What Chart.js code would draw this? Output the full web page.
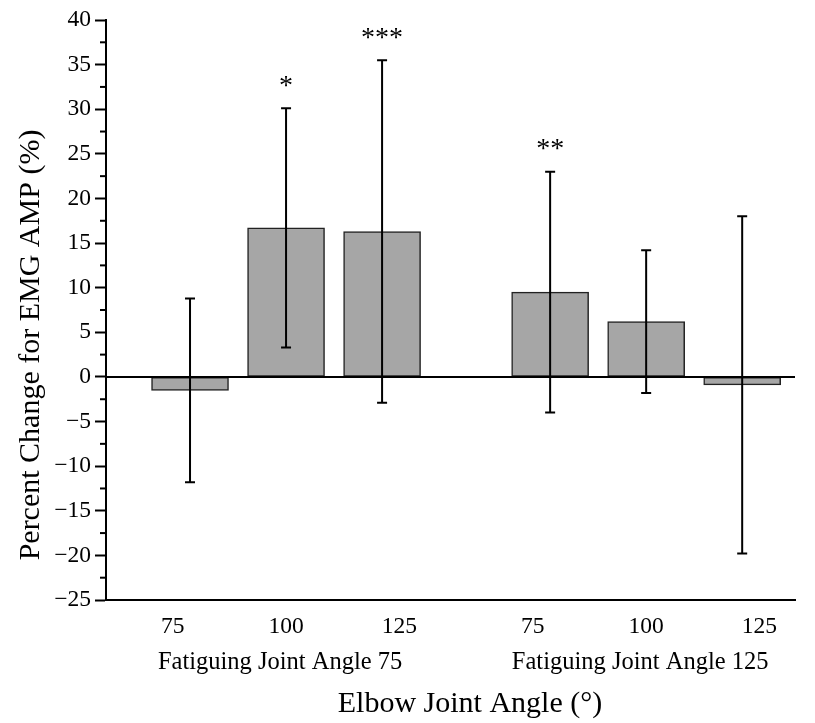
<!DOCTYPE html>
<html>
<head>
<meta charset="utf-8">
<script src="https://cdn.jsdelivr.net/npm/chart.js@4.4.1/dist/chart.umd.min.js"></script>
<style>
  html, body { margin: 0; padding: 0; background: #fff; }
  #wrap { width: 815px; height: 723px; }
</style>
</head>
<body>
<div id="wrap"><canvas id="chart"></canvas></div>
<script>
// data
const groups = ['Fatiguing Joint Angle 75', 'Fatiguing Joint Angle 125'];
const angles = ['75', '100', '125'];
const meanChange = [-1.5, 16.7, 16.3, 9.5, 6.2, -0.9];
const sdChange = [10.3, 13.4, 19.2, 13.5, 8.0, 18.9];
const significance = ['', '*', '***', '**', '', ''];

const FONT = "'Liberation Serif', 'Times New Roman', serif";
const GROUP_GAP = 3.75;     // distance between first bars of the two groups
const LABEL_SPREAD = 1.18;  // tick labels sit a bit wider apart than bars

const barX = meanChange.map((v, i) => Math.floor(i / 3) * GROUP_GAP + (i % 3));
const groupCenter = groups.map((g, k) => k * GROUP_GAP + 1);
const labelX = barX.map((x, i) => {
  const c = groupCenter[Math.floor(i / 3)];
  return c + (x - c) * LABEL_SPREAD;
});

const extras = {
  id: 'extras',
  afterDatasetsDraw(chart) {
    const ctx = chart.ctx;
    const xs = chart.scales.x, ys = chart.scales.y;
    const area = chart.chartArea;
    ctx.save();
    ctx.strokeStyle = '#000';

    // zero line
    const y0 = ys.getPixelForValue(0);
    ctx.lineWidth = 2;
    ctx.beginPath();
    ctx.moveTo(area.left, y0);
    ctx.lineTo(area.right, y0);
    ctx.stroke();

    // error bars + stars
    meanChange.forEach((m, i) => {
      const px = xs.getPixelForValue(barX[i]);
      const top = ys.getPixelForValue(m + sdChange[i]);
      const bot = ys.getPixelForValue(m - sdChange[i]);
      ctx.lineWidth = 2;
      ctx.beginPath();
      ctx.moveTo(px, top); ctx.lineTo(px, bot);
      ctx.moveTo(px - 5, top); ctx.lineTo(px + 5, top);
      ctx.moveTo(px - 5, bot); ctx.lineTo(px + 5, bot);
      ctx.stroke();
      if (significance[i]) {
        ctx.fillStyle = '#000';
        ctx.font = '28px ' + FONT;
        ctx.textAlign = 'center';
        ctx.textBaseline = 'middle';
        ctx.fillText(significance[i], px, top - 22);
      }
    });

    // minor ticks on y
    ctx.lineWidth = 2;
    for (let v = ys.min + 2.5; v < ys.max; v += 5) {
      const py = ys.getPixelForValue(v);
      ctx.beginPath();
      ctx.moveTo(area.left - 6, py);
      ctx.lineTo(area.left, py);
      ctx.stroke();
    }

    // group labels
    ctx.fillStyle = '#000';
    ctx.font = '24.5px ' + FONT;
    ctx.textAlign = 'center';
    ctx.textBaseline = 'middle';
    groups.forEach((g, k) => {
      ctx.fillText(g, xs.getPixelForValue(groupCenter[k]) - 6, 663);
    });

    // axis titles
    ctx.font = '30px ' + FONT;
    ctx.fillText('Elbow Joint Angle (\u00B0)', 470, 704);
    ctx.translate(31, 345);
    ctx.rotate(-Math.PI / 2);
    ctx.fillText('Percent Change for EMG AMP (%)', 0, 0);
    ctx.restore();
  }
};

new Chart(document.getElementById('chart'), {
  type: 'bar',
  data: {
    datasets: [{
      data: meanChange.map((v, i) => ({ x: barX[i], y: v })),
      backgroundColor: '#a6a6a6',
      borderColor: '#222',
      borderWidth: 1.5,
      borderSkipped: false,
      barThickness: 77
    }]
  },
  options: {
    responsive: true,
    maintainAspectRatio: false,
    animation: false,
    layout: { padding: { top: 20, right: 20, left: 0, bottom: 0 } },
    plugins: {
      legend: { display: false },
      tooltip: { enabled: false }
    },
    scales: {
      x: {
        type: 'linear',
        min: -0.875,
        max: 6.3,
        offset: false,
        grid: { display: false },
        border: { display: true, color: '#000', width: 2 },
        afterBuildTicks: (scale) => { scale.ticks = labelX.map(v => ({ value: v })); },
        afterFit: (scale) => { scale.height = 123; },
        ticks: {
          autoSkip: false,
          maxRotation: 0,
          padding: 5,
          color: '#000',
          font: { family: FONT, size: 23.5 },
          callback: (v, i) => angles[i % 3]
        }
      },
      y: {
        min: -25,
        max: 40,
        grid: {
          drawOnChartArea: false,
          drawTicks: true,
          tickLength: 11,
          tickWidth: 2,
          tickColor: '#000',
          color: '#000'
        },
        border: { display: true, color: '#000', width: 2 },
        afterFit: (scale) => { scale.width = 106; },
        ticks: {
          stepSize: 5,
          padding: 4,
          color: '#000',
          font: { family: FONT, size: 23.5 },
          callback: (v) => v < 0 ? '\u2212' + Math.abs(v) : String(v)
        }
      }
    }
  },
  plugins: [extras]
});
</script>
</body>
</html>
